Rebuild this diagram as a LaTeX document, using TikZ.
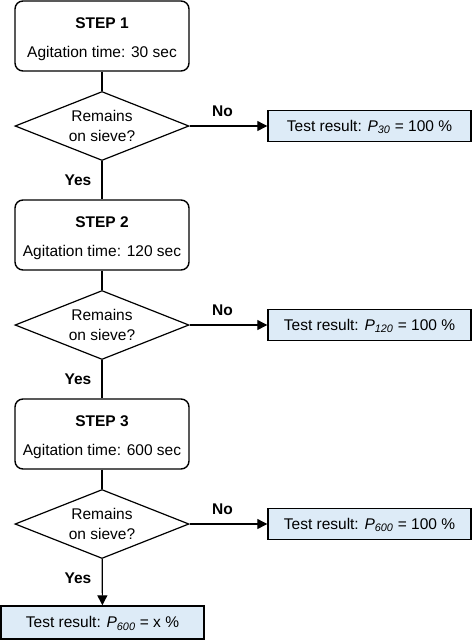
\documentclass[tikz,border=0pt]{standalone}
\usepackage{fontspec}
\setmainfont{Liberation Sans}
\usetikzlibrary{shapes.geometric,arrows.meta}
\definecolor{resblue}{HTML}{DDEBF7}
\begin{document}
\begin{tikzpicture}[x=1pt,y=-1pt,
  txt/.style={font=\fontsize{15.5}{19}\selectfont, inner sep=0pt, anchor=base},
  lbl/.style={font=\fontsize{15.5}{19}\selectfont\bfseries, inner sep=0pt, anchor=base},
  stepbox/.style={draw, line width=1.4pt, rounded corners=8pt, minimum width=174pt, minimum height=70pt, inner sep=0pt},
  decision/.style={draw, diamond, line width=1.2pt, minimum width=174pt, minimum height=69pt, aspect=2.5, inner sep=0pt},
  result/.style={draw, fill=resblue, line width=1.4pt, minimum width=203pt, minimum height=31pt, inner sep=0pt,
    text height=12pt, text depth=2pt, font=\fontsize{15.5}{19}\selectfont},
  conn/.style={line width=1.2pt},
  arr/.style={conn, -{Triangle[length=10pt,width=10pt]}}
]
\useasboundingbox (0,0) rectangle (472,641);
\foreach \i/\off/\t in {1/0/30, 2/199/120, 3/398/600}{
  \node[stepbox] (s\i) at (102,{36+\off}) {};
  \node[txt] (s\i a) at (102,{28+\off}) {\bfseries STEP \i};
  \node[txt] (s\i b) at (102,{57.5+\off}) {Agitation time: \t\ sec};
  \node[decision] (d\i) at (102,{126+\off}) {};
  \node[txt] (d\i a) at (102,{121+\off}) {Remains};
  \node[txt] (d\i b) at (102,{141+\off}) {on sieve?};
  \node[result] (r\i) at (369.5,{126+\off}) {Test result: \textit{P}\textsubscript{\textit{\t}} = 100 \%};
  \node[lbl] (n\i) at (222.5,{116+\off}) {No};
  \node[lbl] (y\i) at (78,{185.5+\off}) {Yes};
  \draw[conn] (s\i) -- (d\i);
  \draw[arr] (d\i) -- (r\i);
}
\node[result] (f) at (102.5,622.5) [minimum height=33pt] {Test result: \textit{P}\textsubscript{\textit{600}} = x \%};
\draw[conn] (d1) -- (s2);
\draw[conn] (d2) -- (s3);
\draw[arr] (d3) -- (f);
\end{tikzpicture}
\end{document}
